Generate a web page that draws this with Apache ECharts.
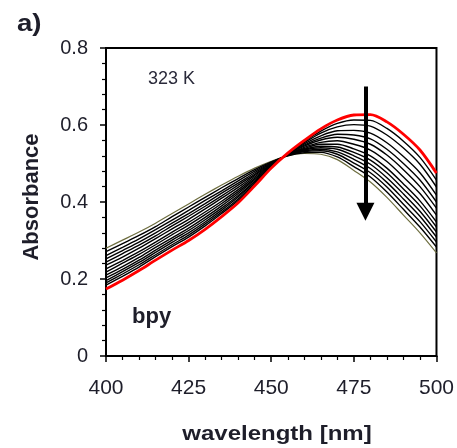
<!DOCTYPE html>
<html><head><meta charset="utf-8">
<script src="https://cdn.jsdelivr.net/npm/echarts@6/dist/echarts.min.js"></script>
<style>html,body{margin:0;padding:0;background:#fff}#c{width:457px;height:448px}</style>
</head><body><div id="c"></div>
<script>
const wavelengths = [400,405,410,415,420,425,430,435,440,445,450,455,460,465,470,475,480,485,490,495,500];
const curve00 = [0.174,0.197,0.222,0.249,0.275,0.300,0.329,0.362,0.398,0.442,0.488,0.527,0.560,0.590,0.613,0.626,0.627,0.608,0.576,0.535,0.475];
const curve01 = [0.184,0.207,0.231,0.258,0.284,0.309,0.338,0.370,0.404,0.446,0.490,0.526,0.557,0.584,0.604,0.613,0.612,0.591,0.558,0.516,0.457];
const curve02 = [0.190,0.213,0.237,0.263,0.289,0.314,0.343,0.374,0.408,0.449,0.491,0.526,0.554,0.579,0.595,0.601,0.597,0.574,0.540,0.498,0.439];
const curve03 = [0.196,0.219,0.243,0.269,0.295,0.320,0.348,0.379,0.413,0.452,0.492,0.525,0.551,0.572,0.585,0.586,0.579,0.554,0.518,0.476,0.418];
const curve04 = [0.203,0.225,0.249,0.275,0.301,0.326,0.354,0.384,0.417,0.454,0.493,0.525,0.548,0.566,0.576,0.574,0.564,0.537,0.500,0.457,0.400];
const curve05 = [0.210,0.232,0.256,0.282,0.307,0.332,0.360,0.390,0.422,0.458,0.494,0.524,0.545,0.561,0.568,0.563,0.550,0.522,0.484,0.440,0.384];
const curve06 = [0.218,0.241,0.264,0.289,0.315,0.340,0.367,0.396,0.427,0.461,0.496,0.523,0.542,0.555,0.559,0.550,0.535,0.505,0.465,0.422,0.366];
const curve07 = [0.226,0.248,0.271,0.296,0.322,0.347,0.374,0.402,0.432,0.465,0.497,0.523,0.539,0.550,0.550,0.538,0.520,0.488,0.447,0.403,0.348];
const curve08 = [0.236,0.257,0.280,0.305,0.330,0.355,0.382,0.410,0.438,0.469,0.498,0.522,0.537,0.545,0.543,0.529,0.509,0.476,0.434,0.390,0.335];
const curve09 = [0.244,0.266,0.288,0.312,0.338,0.363,0.389,0.416,0.444,0.472,0.500,0.522,0.535,0.541,0.537,0.520,0.498,0.463,0.421,0.376,0.322];
const curve10 = [0.252,0.274,0.296,0.320,0.345,0.370,0.396,0.423,0.449,0.476,0.501,0.521,0.533,0.537,0.530,0.511,0.487,0.451,0.408,0.363,0.309];
const curve11 = [0.261,0.282,0.304,0.328,0.353,0.378,0.404,0.429,0.455,0.480,0.503,0.521,0.531,0.533,0.524,0.501,0.476,0.439,0.394,0.349,0.296];
const curve12 = [0.271,0.292,0.313,0.336,0.362,0.387,0.412,0.437,0.461,0.484,0.504,0.520,0.528,0.529,0.517,0.492,0.465,0.426,0.381,0.335,0.283];
const curve13 = [0.280,0.301,0.322,0.345,0.370,0.395,0.420,0.444,0.467,0.488,0.506,0.520,0.526,0.524,0.510,0.482,0.452,0.412,0.366,0.320,0.268];
const blackCurves = [curve01,curve02,curve03,curve04,curve05,curve06,curve07,curve08,curve09,curve10,curve11,curve12];
const arrowX = 478.5, arrowTop = 0.70, arrowTip = 0.375;
const xTicks = [400,425,450,475,500];
const yTicks = [0,0.2,0.4,0.6,0.8];

const pairs = v => wavelengths.map((w,i)=>[w,v[i]]);
const chart = echarts.init(document.getElementById('c'));
const series = [];
series.push({type:'line',data:pairs(curve13),showSymbol:false,smooth:0.3,lineStyle:{color:'#6e6e40',width:1.2},z:2,silent:true});
blackCurves.forEach(c=>series.push({type:'line',data:pairs(c),showSymbol:false,smooth:0.3,lineStyle:{color:'#000',width:1.4},z:2,silent:true}));
series.push({type:'line',data:pairs(curve00),showSymbol:false,smooth:0.3,lineStyle:{color:'#ff0000',width:2.8},z:3,silent:true,
  markLine:{silent:true,symbol:['none','triangle'],symbolSize:[18,18],label:{show:false},
    lineStyle:{color:'#000',width:4,type:'solid'},
    data:[[{coord:[arrowX,arrowTop]},{coord:[arrowX,arrowTip]}]]}});
chart.setOption({
  animation:false,
  grid:{left:106,right:20,top:48,bottom:92,show:true,borderColor:'#000',borderWidth:2},
  xAxis:{type:'value',min:400,max:500,interval:25,
    axisLine:{show:true,lineStyle:{color:'#000',width:2}},
    axisTick:{show:true,length:6,lineStyle:{color:'#000',width:1.5}},
    minorTick:{show:true,splitNumber:5,length:4,lineStyle:{color:'#000',width:1.2}},
    splitLine:{show:false},
    axisLabel:{fontFamily:'Liberation Sans',fontSize:21,color:'#1e1e2a',margin:22,formatter:v=>xTicks.includes(v)?String(v):''}},
  yAxis:{type:'value',min:0,max:0.8,interval:0.2,
    axisLine:{show:true,lineStyle:{color:'#000',width:2}},
    axisTick:{show:true,length:6,lineStyle:{color:'#000',width:1.5}},
    minorTick:{show:true,splitNumber:5,length:4,lineStyle:{color:'#000',width:1.2}},
    splitLine:{show:false},
    axisLabel:{fontFamily:'Liberation Sans',fontSize:20,color:'#1e1e2a',margin:18,formatter:v=>{const t=yTicks.find(y=>Math.abs(y-v)<1e-9);return t===undefined?'':(t===0?'0':t.toFixed(1));}}},
  graphic:[
    {type:'text',x:17,y:24,scaleX:1.15,style:{text:'a)',font:'bold 24px "Liberation Sans"',fill:'#1e1e2a',textAlign:'left',textVerticalAlign:'middle'}},
    {type:'text',x:148,y:79,style:{text:'323 K',font:'18px "Liberation Sans"',fill:'#2a2a3a',textAlign:'left',textVerticalAlign:'middle'}},
    {type:'text',x:132,y:317,style:{text:'bpy',font:'bold 22px "Liberation Sans"',fill:'#1e1e2a',textAlign:'left',textVerticalAlign:'middle'}},
    {type:'text',x:277,y:434,scaleX:1.2,style:{text:'wavelength [nm]',font:'bold 20px "Liberation Sans"',fill:'#1e1e2a',textAlign:'center',textVerticalAlign:'middle'}},
    {type:'text',x:32,y:197,rotation:Math.PI/2,style:{text:'Absorbance',font:'bold 22px "Liberation Sans"',fill:'#1e1e2a',textAlign:'center',textVerticalAlign:'middle'}}
  ],
  series:series
});
</script></body></html>
